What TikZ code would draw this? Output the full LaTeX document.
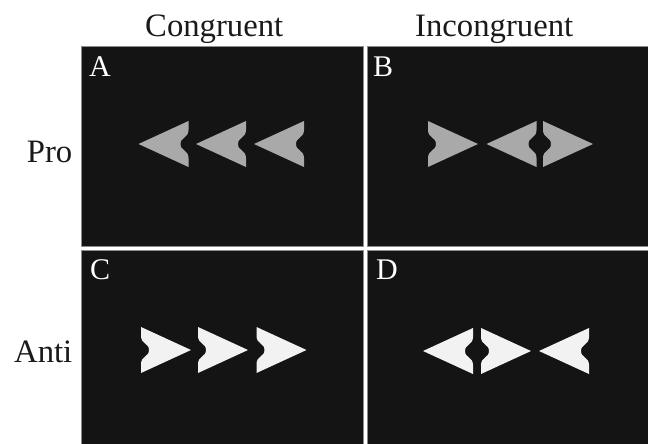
\documentclass[tikz,border=0pt]{standalone}
\usepackage{fontspec}
\setmainfont{Liberation Serif}
\definecolor{panelbg}{HTML}{141414}
\definecolor{grayarrow}{HTML}{A9A9A9}
\definecolor{whitearrow}{HTML}{F2F2F2}
\definecolor{txt}{HTML}{1A1A1A}
\begin{document}
\begin{tikzpicture}[x=1pt,y=-1pt,
  panel/.style={fill=panelbg,draw=black!45,line width=0.8pt},
  heading/.style={inner sep=0pt,text=txt,font=\fontsize{32.7}{36}\selectfont},
  plabel/.style={inner sep=0pt,text=white,font=\fontsize{30}{32}\selectfont,anchor=base west},
  arrowhd/.pic={\path[pic actions] (25,0) -- (-25,-23) -- (-25,-14)
     .. controls (-25,-6) and (-17,-7) .. (-17,0)
     .. controls (-17,7) and (-25,6) .. (-25,14) -- (-25,23) -- cycle;},
  ga/.style={fill=grayarrow},
  wa/.style={fill=whitearrow}]
\useasboundingbox (0,0) rectangle (648,444);
\fill[white] (0,0) rectangle (648,444);
% panels
\draw[panel] (81,46) rectangle (363,246);
\draw[panel] (367,46) rectangle (648.5,246);
\draw[panel] (81,250) rectangle (363,444.5);
\draw[panel] (367,250) rectangle (648.5,444.5);
% headings
\node[heading,anchor=base west] (cong) at (145,36.5) {Congruent};
\node[heading,anchor=base west] (incong) at (415,36.5) {Incongruent};
\node[heading,anchor=base east] (pro) at (72.5,162) {Pro};
\node[heading,anchor=base east] (anti) at (72.5,362) {Anti};
% panel labels
\node[plabel] (la) at (89,77) {A};
\node[plabel] (lb) at (373,77) {B};
\node[plabel] (lc) at (90,279) {C};
\node[plabel] (ld) at (376,279) {D};
% A: congruent pro
\pic[ga,xscale=-1] at (163.5,144) {arrowhd};
\pic[ga,xscale=-1] at (221,144) {arrowhd};
\pic[ga,xscale=-1] at (279,144) {arrowhd};
% B: incongruent pro
\pic[ga] at (453,144) {arrowhd};
\pic[ga,xscale=-1] at (511.5,144) {arrowhd};
\pic[ga] at (568,144) {arrowhd};
% C: congruent anti
\pic[wa] at (166,350) {arrowhd};
\pic[wa] at (223,350) {arrowhd};
\pic[wa] at (281.5,350) {arrowhd};
% D: incongruent anti
\pic[wa,xscale=-1] at (448,351) {arrowhd};
\pic[wa] at (506,351) {arrowhd};
\pic[wa,xscale=-1] at (564,351) {arrowhd};
\end{tikzpicture}
\end{document}
